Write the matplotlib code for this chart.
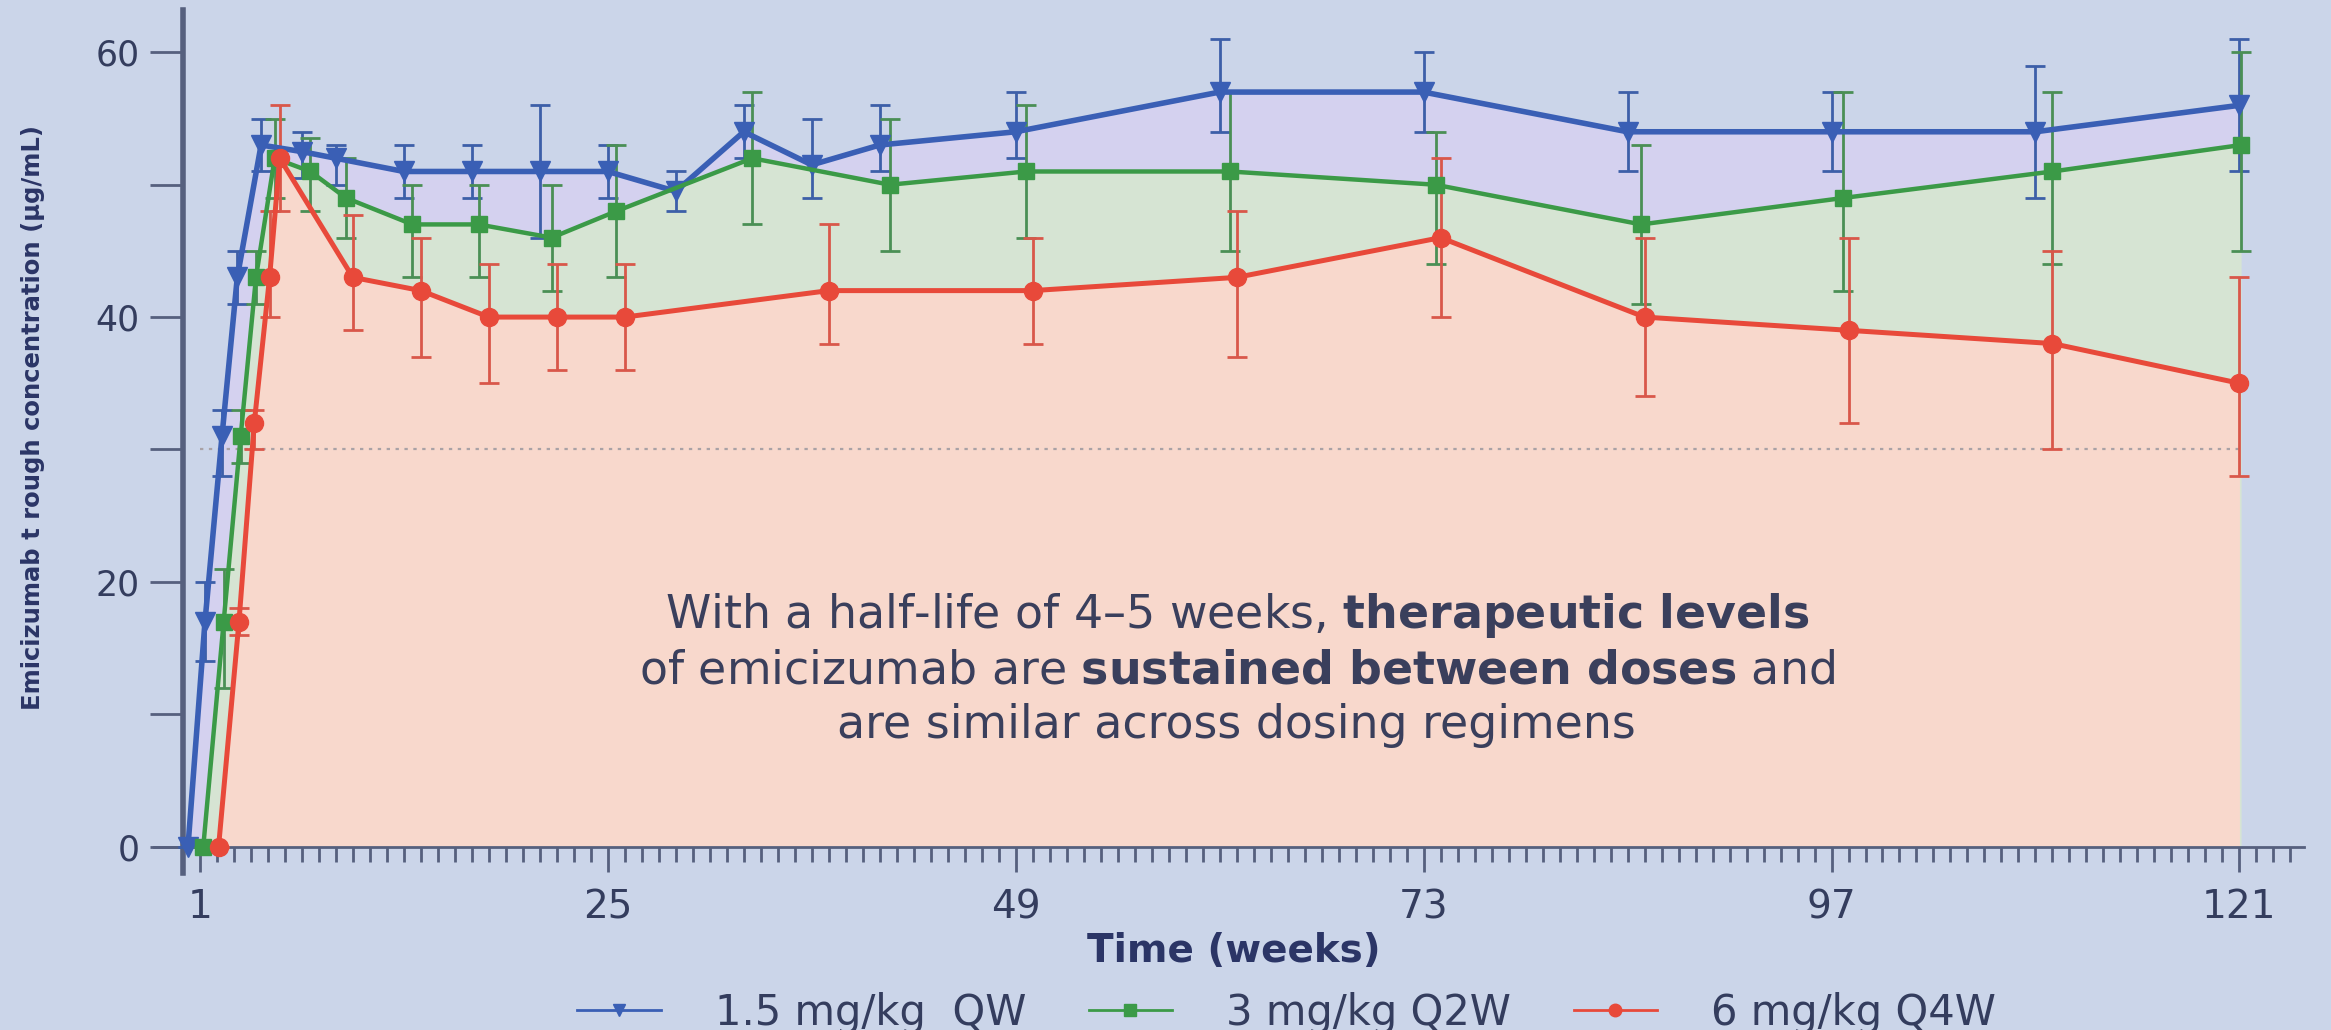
import matplotlib.pyplot as plt
from matplotlib.ticker import FixedLocator
from matplotlib.lines import Line2D

# ---- data ----
# 1.5 mg/kg QW
wk_b = [0.3, 1.3, 2.3, 3.2, 4.6, 7, 9, 13, 17, 21, 25, 29, 33, 37, 41, 49, 61, 73, 85, 97, 109, 121]
val_b = [0, 17, 31, 43, 53, 52.5, 52, 51, 51, 51, 51, 49.5, 54, 51.5, 53, 54, 57, 57, 54, 54, 54, 56]
hi_b = [0, 20, 33, 45, 55, 54, 53, 53, 53, 56, 53, 51, 56, 55, 56, 57, 61, 60, 57, 57, 59, 61]
lo_b = [0, 14, 28, 41, 51, 50.5, 50, 49, 49, 46, 49, 48, 52, 49, 51, 52, 54, 54, 51, 51, 49, 51]

# 3 mg/kg Q2W
wk_g = [1.2, 2.4, 3.4, 4.3, 5.4, 7.5, 9.6, 13.5, 17.4, 21.7, 25.5, 33.5, 41.6, 49.6, 61.6, 73.7, 85.8, 97.7, 110, 121.1]
val_g = [0, 17, 31, 43, 52, 51, 49, 47, 47, 46, 48, 52, 50, 51, 51, 50, 47, 49, 51, 53]
hi_g = [0, 21, 33, 45, 55, 53.5, 52, 50, 50, 50, 53, 57, 55, 56, 57, 54, 53, 57, 57, 60]
lo_g = [0, 12, 29, 41, 49, 48, 46, 43, 43, 42, 43, 47, 45, 46, 45, 44, 41, 42, 44, 45]

# 6 mg/kg Q4W
wk_r = [2.1, 3.3, 4.2, 5.1, 5.7, 10, 14, 18, 22, 26, 38, 50, 62, 74, 86, 98, 110, 121]
val_r = [0, 17, 32, 43, 52, 43, 42, 40, 40, 40, 42, 42, 43, 46, 40, 39, 38, 35]
hi_r = [0, 18, 33, 48, 56, 47.7, 46, 44, 44, 44, 47, 46, 48, 52, 46, 46, 45, 43]
lo_r = [0, 16, 30, 40, 48, 39, 37, 35, 36, 36, 38, 38, 37, 40, 34, 32, 30, 28]

labels = ["1.5 mg/kg  QW", "3 mg/kg Q2W", "6 mg/kg Q4W"]
x_ticks = [1, 25, 49, 73, 97, 121]
y_ticks = [0, 20, 40, 60]
y_minor = [10, 30, 50]
threshold = 30

# ---- style ----
bg = "#cbd5e9"
txt = "#343d5e"
axc = "#56607e"
plt.rcParams['font.family'] = ['DejaVu Sans']
plt.rcParams['mathtext.fontset'] = 'custom'
plt.rcParams['mathtext.rm'] = 'DejaVu Sans'
plt.rcParams['mathtext.bf'] = 'DejaVu Sans:bold'

fig = plt.figure(figsize=(23.31, 10.30), dpi=100, facecolor=bg)
ax = fig.add_axes([154 / 2331, 1 - 873 / 1030, 2150 / 2331, 863 / 1030])
ax.set_facecolor(bg)
ax.set_xlim(-1.7, 124.8)
ax.set_ylim(-2, 63.2)

series = [
    (wk_b, val_b, lo_b, hi_b, "#3a5fb5", "#3d5fa8", "#d4d1ef", "v", 15, 4.0),
    (wk_g, val_g, lo_g, hi_g, "#3b9a47", "#4a8f55", "#d6e4d3", "s", 11, 3.2),
    (wk_r, val_r, lo_r, hi_r, "#e8493a", "#d9574a", "#f8d8cc", "o", 13, 3.6),
]

for i, (wk, val, lo, hi, c, ec, fc, m, ms, lw) in enumerate(series):
    ax.fill_between(wk, val, 0, color=fc, lw=0, zorder=1 + i * 0.1)

ax.hlines(threshold, 1, 121, colors="#a9a2a6", linestyles=(0, (1.5, 2.5)), lw=1.6, zorder=2)

for i, (wk, val, lo, hi, c, ec, fc, m, ms, lw) in enumerate(series):
    yerr = [[v - l for v, l in zip(val, lo)], [h - v for v, h in zip(val, hi)]]
    ax.errorbar(wk, val, yerr=yerr, fmt='none', ecolor=ec, elinewidth=2,
                capsize=7, capthick=2, zorder=3 + i * 0.1)
    ax.plot(wk, val, color=c, lw=lw, marker=m, ms=ms, zorder=4 + i * 0.1)

# axes like the original (offset spines)
for s in ['top', 'right']:
    ax.spines[s].set_visible(False)
ax.spines['bottom'].set_position(('data', 0))
ax.spines['left'].set_position(('data', 0))
ax.spines['left'].set_linewidth(4)
ax.spines['bottom'].set_linewidth(2)
ax.spines['left'].set_color(axc)
ax.spines['bottom'].set_color(axc)

ax.xaxis.set_major_locator(FixedLocator(x_ticks))
ax.xaxis.set_minor_locator(FixedLocator(list(range(1, 125))))
ax.yaxis.set_major_locator(FixedLocator(y_ticks))
ax.yaxis.set_minor_locator(FixedLocator(y_minor))
ax.tick_params(axis='x', which='major', length=18, width=2, pad=12,
               labelsize=28, color=axc, labelcolor=txt)
ax.tick_params(axis='x', which='minor', length=11, width=2, color=axc)
ax.tick_params(axis='y', which='both', length=24, width=2, pad=7,
               labelsize=25, color=axc, labelcolor=txt)

ax.set_xlabel("Time (weeks)", fontsize=28, fontweight='bold', color="#2b3566")
ax.xaxis.set_label_coords((1234 - 154) / 2150, (873 - 951) / 863)
ax.xaxis.label.set_va('center')
ax.set_ylabel("Emicizumab t rough concentration (µg/mL)", fontsize=17.5,
              fontweight='bold', color="#2b3566")
ax.yaxis.set_label_coords((33 - 154) / 2150, (873 - 418) / 863)
ax.yaxis.label.set_va('center')

note = ("With a half-life of 4–5 weeks, $\\mathbf{therapeutic\\ levels}$\n"
        "of emicizumab are $\\mathbf{sustained\\ between\\ doses}$ and\n"
        "are similar across dosing regimens")
ax.text(62, 13.4, note, ha='center', va='center', fontsize=33, color="#3a3f5c",
        linespacing=1.26, zorder=6)

handles = [Line2D([], [], color=s[4], lw=2, marker=s[7], ms=9) for s in series]
fig.legend(handles, labels, loc='center', bbox_to_anchor=(0.552, 1 - 1013 / 1030),
           ncol=3, frameon=False, fontsize=30, handlelength=2.0, handletextpad=1.3,
           columnspacing=1.5, labelcolor=txt)

fig.savefig("out.png", dpi=100, facecolor=bg)
